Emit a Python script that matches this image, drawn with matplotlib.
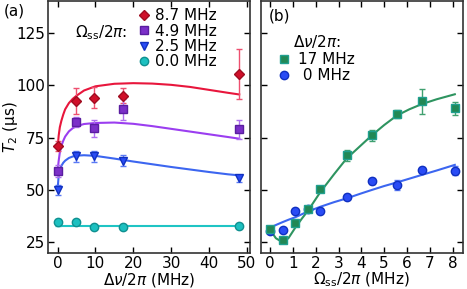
import numpy as np
import matplotlib.pyplot as plt
from matplotlib.lines import Line2D

# ---- panel (a): T2 vs detuning, for several spin-spin drive strengths
dnu = [0, 5, 9.7, 17.3, 48]
t2_87 = [71, 92.5, 94, 95, 105.5]
e_87 = [2.5, 6, 5, 3.5, 12]
t2_49 = [59, 82.5, 79.5, 88.5, 79]
e_49 = [3, 2.5, 4, 5, 4.5]
t2_25 = [50, 66, 66, 64, 55.5]
e_25 = [2.5, 2.5, 2.5, 2.5, 1.5]
t2_00 = [34.5, 34.5, 32.5, 32.5, 33]
e_00 = [1.5, 0.8, 0.8, 0.8, 0.8]

# model curves
fit_x = [0, 0.3, 0.6, 1, 1.5, 2, 3, 4, 5, 7, 10, 15, 20, 25, 30, 35, 40, 45, 48]
fit_87 = [70, 76, 80, 83, 86, 88.5, 91.5, 93.5, 95, 97.5, 99.5, 100.7, 101, 100.8, 100.2, 99.2, 97.8, 96.4, 95.6]
fit_49 = [59, 64, 68, 71, 73.5, 75.5, 78, 79.5, 80.5, 81.5, 82, 82.2, 81.6, 80.5, 79.2, 77.9, 76.6, 75.3, 74.5]
fit_25 = [50, 57, 59.5, 61.5, 63, 64, 65.3, 66, 66.4, 66.6, 66.3, 65, 63.6, 62.3, 61, 59.8, 58.6, 57.5, 57]
fit_00 = [33] * len(fit_x)

# ---- panel (b): T2 vs drive strength
omega = [0, 0.55, 1.1, 1.65, 2.2, 3.35, 4.45, 5.55, 6.65, 8.1]
t2_17 = [31.3, 26, 34.4, 40.8, 50.5, 66.5, 76.1, 86.4, 92.3, 89]
e_17 = [1, 1, 1, 1.5, 1.5, 2.5, 2.5, 2, 6, 3]
t2_0 = [30.4, 30.9, 40.1, 41, 40.2, 46.9, 54.3, 52.5, 59.7, 59.3]
e_0 = [1, 1, 1, 1.5, 1, 1, 1.5, 2.5, 1.5, 2]

fitb_x = [0, 0.25, 0.55, 0.8, 1.1, 1.4, 1.65, 2.2, 2.8, 3.35, 4.0, 4.45, 5.0, 5.55, 6.1, 6.65, 7.3, 8.1]
fitb_17 = [31, 27, 25, 27, 32, 36.5, 40, 49, 57.5, 65, 71.5, 76, 81, 85.5, 88.5, 91, 93.3, 95.7]
fitb_0 = [32, 33.3, 34.7, 35.8, 37, 38.5, 39.7, 42, 44.2, 46, 48.4, 50, 51.9, 53.6, 55.4, 57.2, 59.3, 62]

plt.rcParams['font.size'] = 11
plt.rcParams['mathtext.fontset'] = 'dejavusans'

fig = plt.figure(figsize=(4.67, 2.89), dpi=100)
ax1 = fig.add_axes([0.103, 0.125, 0.432, 0.870])
ax2 = fig.add_axes([0.559, 0.125, 0.432, 0.870])

def pts(ax, x, y, e, marker, face, edge, ecol, label, ms=6):
    ax.errorbar(x, y, yerr=e, fmt=marker, ms=ms, mfc=face, mec=edge, mew=1,
                ecolor=ecol, elinewidth=1, capsize=2.5, capthick=1, zorder=3)
    return Line2D([], [], ls='none', marker=marker, ms=ms, mfc=face, mec=edge,
                  mew=1, label=label)

# (a)
ax1.plot(fit_x, fit_87, color='#e8163c', lw=1.5)
ax1.plot(fit_x, fit_49, color='#9b3ef0', lw=1.5)
ax1.plot(fit_x, fit_25, color='#3c66f0', lw=1.5)
ax1.plot(fit_x, fit_00, color='#1fc4c4', lw=1.5)
ha = [pts(ax1, dnu, t2_87, e_87, 'D', '#d0102a', '#a00c20', '#ee5070', '8.7 MHz', ms=5.5),
      pts(ax1, dnu, t2_49, e_49, 's', '#7b2fc8', '#5a1ea0', '#b070f0', '4.9 MHz'),
      pts(ax1, dnu, t2_25, e_25, 'v', '#2a4cf5', '#1030c0', '#5a7af5', '2.5 MHz'),
      pts(ax1, dnu, t2_00, e_00, 'o', '#1cc0c0', '#109090', '#40d0d0', '0.0 MHz')]

ax1.set_xlim(-2.5, 50.8)
ax1.set_ylim(20, 140)
ax1.set_xticks([0, 10, 20, 30, 40, 50])
ax1.set_yticks([25, 50, 75, 100, 125])
ax1.set_xlabel(r'$\Delta\nu/2\pi$ (MHz)', labelpad=0)
ax1.set_ylabel(r'$T_2$ (μs)')
ax1.yaxis.set_label_coords(-0.137, 0.5)
ax1.legend(handles=ha, loc='upper left', bbox_to_anchor=(0.39, 1.015), frameon=False,
           handlelength=0.8, handletextpad=0.35, labelspacing=0.02,
           borderpad=0.2, fontsize=11)
ax1.text(0.135, 0.857, r'$\Omega_{\rm ss}/2\pi$:', transform=ax1.transAxes, fontsize=11)
ax1.text(-0.22, 0.945, '(a)', transform=ax1.transAxes, fontsize=11)

# (b)
ax2.plot(fitb_x, fitb_17, color='#2e9460', lw=1.5)
ax2.plot(fitb_x, fitb_0, color='#3c66f0', lw=1.5)
h0 = pts(ax2, omega, t2_0, e_0, 'o', '#2a4cf5', '#1030c0', '#5a7af5', ' 0 MHz')
h17 = pts(ax2, omega, t2_17, e_17, 's', '#228855', '#20a090', '#40a070', '17 MHz')
ax2.legend(handles=[h17, h0], loc='upper left', bbox_to_anchor=(0.03, 0.842),
           frameon=False, handlelength=0.8, handletextpad=0.5,
           labelspacing=0.1, borderpad=0.2, fontsize=11)
ax2.text(0.16, 0.82, r'$\Delta\nu/2\pi$:', transform=ax2.transAxes, fontsize=11)
ax2.text(0.04, 0.925, '(b)', transform=ax2.transAxes, fontsize=11)
ax2.set_xlim(-0.4, 8.45)
ax2.set_ylim(20, 140)
ax2.set_xticks(range(9))
ax2.set_yticks([25, 50, 75, 100, 125])
ax2.set_yticklabels([])
ax2.set_xlabel(r'$\Omega_{\rm ss}/2\pi$ (MHz)', labelpad=0)

for ax in (ax1, ax2):
    ax.tick_params(direction='in', top=True, right=True, length=4, width=1, pad=2)
    for s in ax.spines.values():
        s.set_linewidth(1.2)
        s.set_color('#333333')

fig.savefig('out.png', dpi=100)
